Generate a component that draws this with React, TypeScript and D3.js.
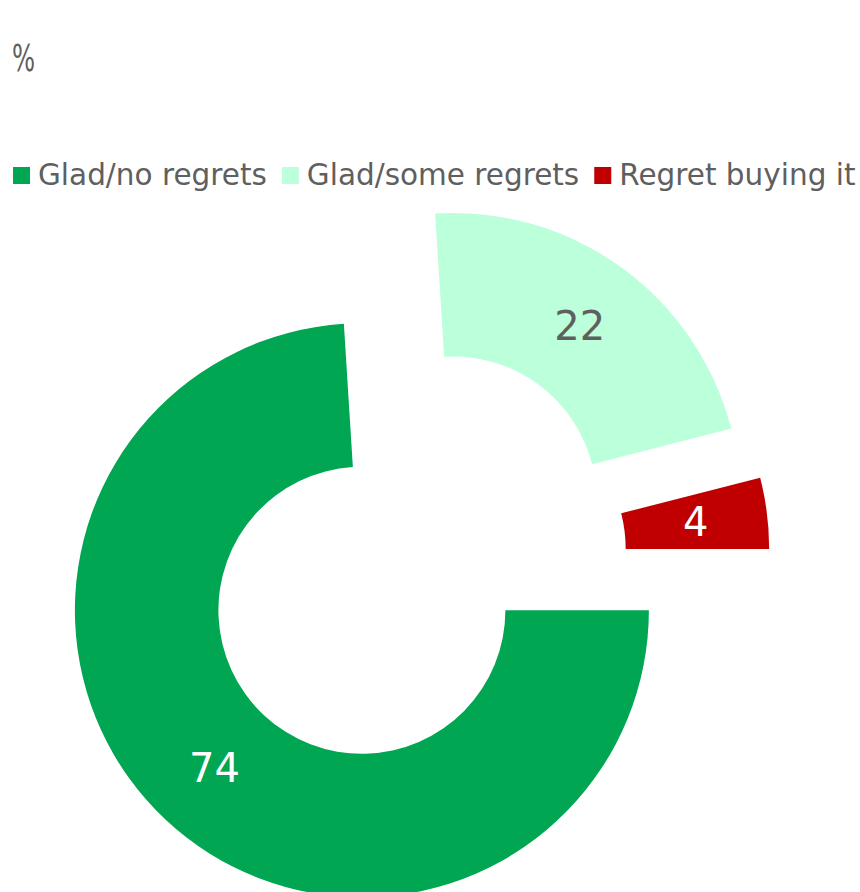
import React, { useEffect, useRef } from "react";
import * as d3 from "d3";

const categories = ["Glad/no regrets", "Glad/some regrets", "Regret buying it"];
const values = [74, 22, 4];
const colors = ["#00A651", "#BBFFDB", "#C00000"];
const labelColors = ["#ffffff", "#5f5f5f", "#ffffff"];
const unitLabel = "%";

const W = 860;
const H = 892;
const FONT = "'DejaVu Sans', Verdana, sans-serif";
const TEXT = "#5f5f5f";

export default function App() {
  const ref = useRef<SVGSVGElement | null>(null);

  useEffect(() => {
    const svg = d3.select(ref.current);
    svg.selectAll("*").remove();

    // unit label
    svg
      .append("text")
      .attr("transform", "translate(12,71) scale(0.64,1)")
      .attr("font-family", FONT)
      .attr("font-size", 38)
      .attr("fill", TEXT)
      .text(unitLabel);

    // legend
    const legend = svg.append("g");
    let x = 13;
    const legendY = 185;
    categories.forEach((c, i) => {
      legend
        .append("rect")
        .attr("x", x)
        .attr("y", legendY - 18)
        .attr("width", 17)
        .attr("height", 17)
        .attr("fill", colors[i]);
      const t = legend
        .append("text")
        .attr("x", x + 25)
        .attr("y", legendY)
        .attr("font-family", FONT)
        .attr("font-size", 29.5)
        .attr("fill", TEXT)
        .text(c);
      const w = (t.node() as SVGTextElement).getComputedTextLength();
      x = x + 25 + w + 15;
    });

    // donut
    const cx = 411;
    const cy = 558;
    const R = 287;
    const r = 143.5;
    const explode = 0.25 * R;

    const pie = d3
      .pie<number>()
      .sort(null)
      .value((d) => d)
      .startAngle(Math.PI / 2)
      .endAngle(Math.PI / 2 + 2 * Math.PI);
    const arcs = pie(values);
    const arc = d3.arc<d3.PieArcDatum<number>>().innerRadius(r).outerRadius(R);

    const g = svg.append("g").attr("transform", `translate(${cx},${cy})`);
    arcs.forEach((a, i) => {
      const mid = (a.startAngle + a.endAngle) / 2;
      const dx = Math.sin(mid) * explode;
      const dy = -Math.cos(mid) * explode;
      const sg = g.append("g").attr("transform", `translate(${dx},${dy})`);
      sg.append("path").attr("d", arc(a) as string).attr("fill", colors[i]);
      const [lx, ly] = arc.centroid(a);
      sg.append("text")
        .attr("x", lx)
        .attr("y", ly)
        .attr("dy", "0.36em")
        .attr("text-anchor", "middle")
        .attr("font-family", FONT)
        .attr("font-size", 40)
        .attr("fill", labelColors[i])
        .text(String(values[i]));
    });
  }, []);

  return (
    <svg
      ref={ref}
      width={W}
      height={H}
      style={{ position: "absolute", left: 0, top: 0, background: "#fff" }}
    />
  );
}
